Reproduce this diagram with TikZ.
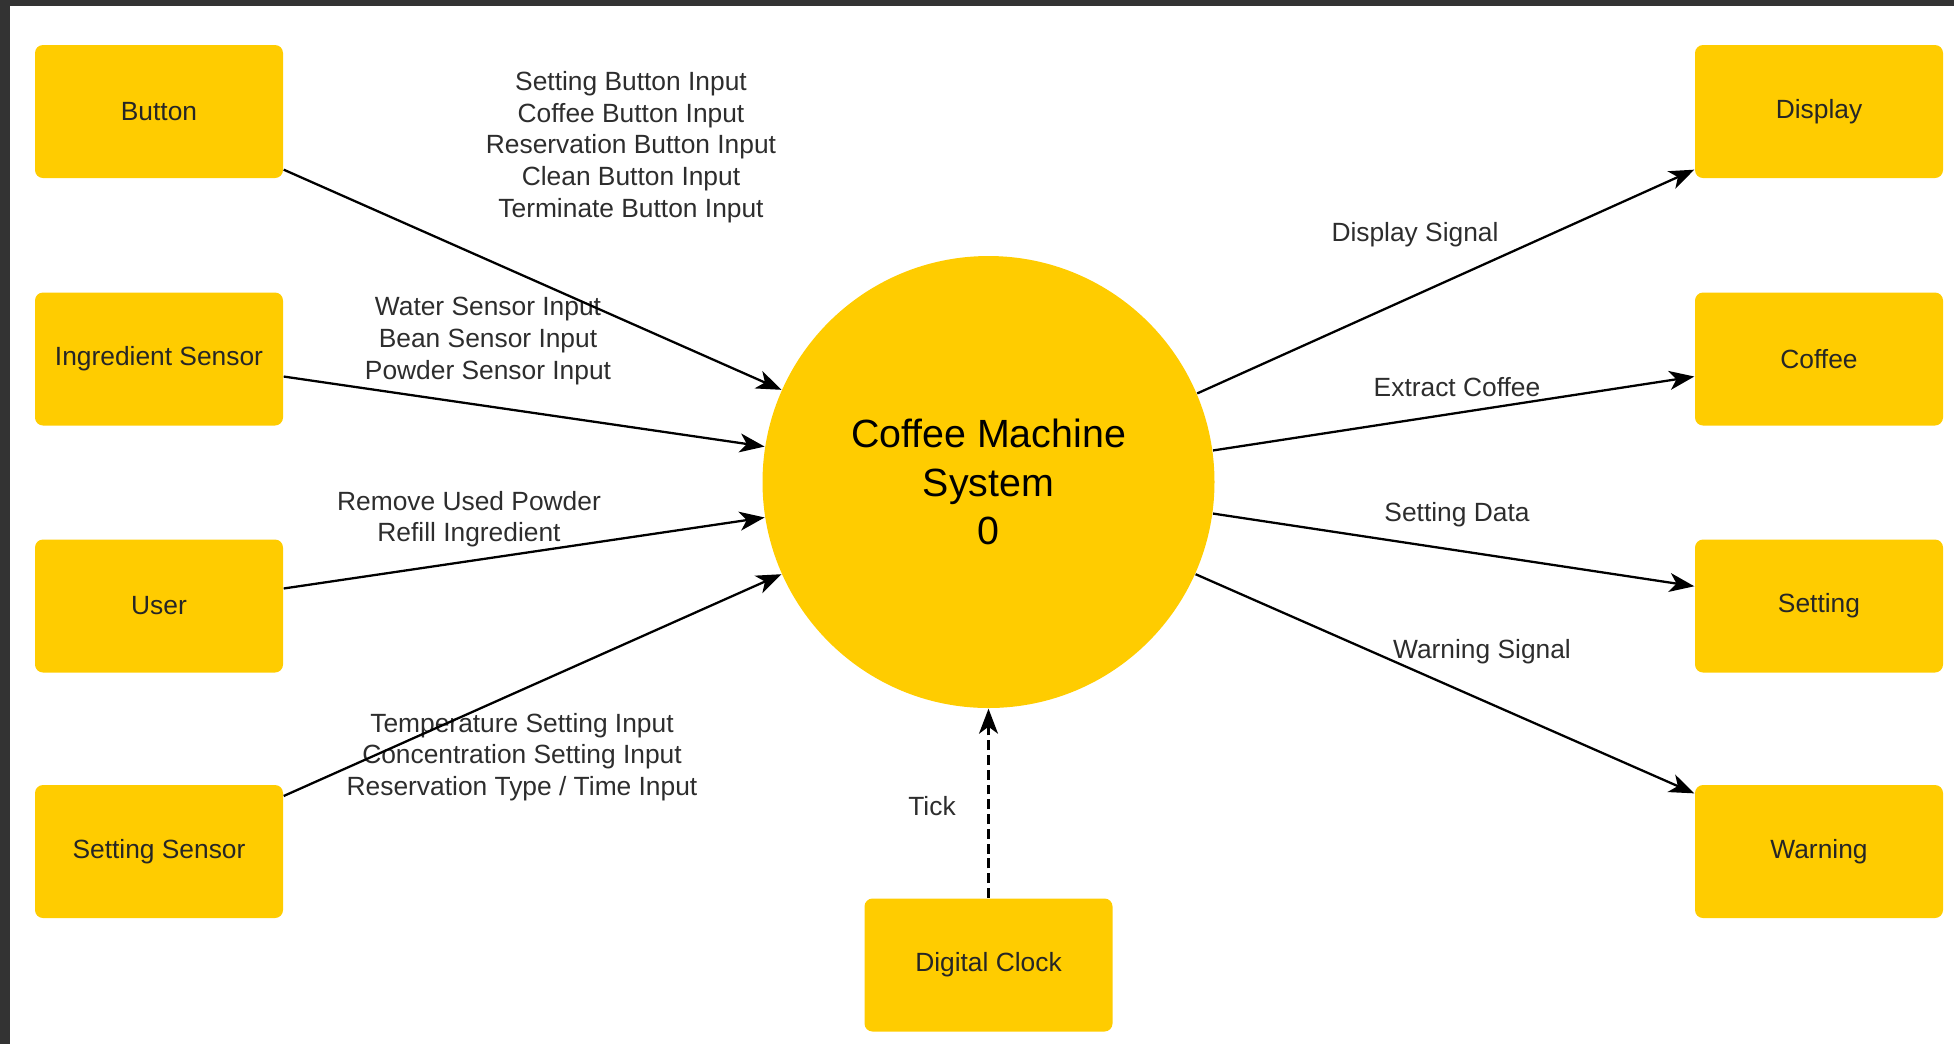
\documentclass[tikz,border=0pt]{standalone}
\usepackage{fontspec}
\setmainfont{Liberation Sans}
\usetikzlibrary{arrows.meta}
\definecolor{boxyellow}{RGB}{255,204,0}
\definecolor{framegray}{RGB}{51,51,51}
\definecolor{labelgray}{RGB}{45,45,45}

\begin{document}
\begin{tikzpicture}[
  entity/.style={fill=boxyellow, rounded corners=0.8mm, minimum width=2.48cm,
    minimum height=1.33cm, font=\fontsize{7.5}{9}\selectfont, text=black!85},
  process/.style={circle, fill=boxyellow, minimum size=4.52cm, inner sep=0pt,
    align=center, font=\fontsize{11.2}{13.8}\selectfont},
  flow/.style={draw=black, line width=0.65pt,
    -{Stealth[length=2.5mm,width=1.9mm,inset=0.7mm]}},
  flowlabel/.style={align=center, font=\fontsize{7.5}{9}\selectfont,
    text=labelgray, inner sep=0pt}
]
\useasboundingbox (0,0) rectangle (19.54,-10.44);
% dark frame at the top and left
\fill[framegray] (0,0) rectangle (19.54,-0.06);
\fill[framegray] (0,0) rectangle (0.10,-10.44);

% central process
\node[process] (sys) at (9.885,-4.82) {Coffee Machine\\System\\0};

% external entities, left
\node[entity] (button) at (1.59,-1.115) {Button};
\node[entity] (ingredient) at (1.59,-3.59) {Ingredient Sensor};
\node[entity] (user) at (1.59,-6.06) {User};
\node[entity] (settingsensor) at (1.59,-8.515) {Setting Sensor};

% external entities, right
\node[entity] (display) at (18.19,-1.115) {Display};
\node[entity] (coffee) at (18.19,-3.59) {Coffee};
\node[entity] (setting) at (18.19,-6.06) {Setting};
\node[entity] (warning) at (18.19,-8.515) {Warning};

% clock
\node[entity] (clock) at (9.885,-9.65) {Digital Clock};

% flow labels
\node[flowlabel] (lbutton) at (6.31,-1.47) {Setting Button Input\\Coffee Button Input\\Reservation Button Input\\Clean Button Input\\Terminate Button Input};
\node[flowlabel] (lingredient) at (4.88,-3.41) {Water Sensor Input\\Bean Sensor Input\\Powder Sensor Input};
\node[flowlabel] (luser) at (4.69,-5.19) {Remove Used Powder\\Refill Ingredient};
\node[flowlabel] (lsetting) at (5.22,-7.57) {Temperature Setting Input\\Concentration Setting Input\\Reservation Type / Time Input};
\node[flowlabel] (ldisplay) at (14.15,-2.35) {Display Signal};
\node[flowlabel] (lcoffee) at (14.57,-3.87) {Extract Coffee};
\node[flowlabel] (ldata) at (14.57,-5.15) {Setting Data};
\node[flowlabel] (lwarning) at (14.82,-6.52) {Warning Signal};
\node[flowlabel] (ltick) at (9.32,-8.06) {Tick};

% data flows in
\draw[flow] (button.-25.3) -- (sys.156);
\draw[flow] (ingredient.-8.7) -- (sys.171.5);
\draw[flow] (user.8.3) -- (sys.189);
\draw[flow] (settingsensor.24.5) -- (sys.204.5);

% data flows out
\draw[flow] (sys.23.6) -- (display.205);
\draw[flow] (sys.8.3) -- (coffee.188.7);
\draw[flow] (sys.-8.5) -- (setting.171.3);
\draw[flow] (sys.-24.3) -- (warning.155.5);

% control flow
\draw[flow, dash pattern=on 2.8pt off 1.4pt] (clock.north) -- (sys.south);
\end{tikzpicture}
\end{document}
